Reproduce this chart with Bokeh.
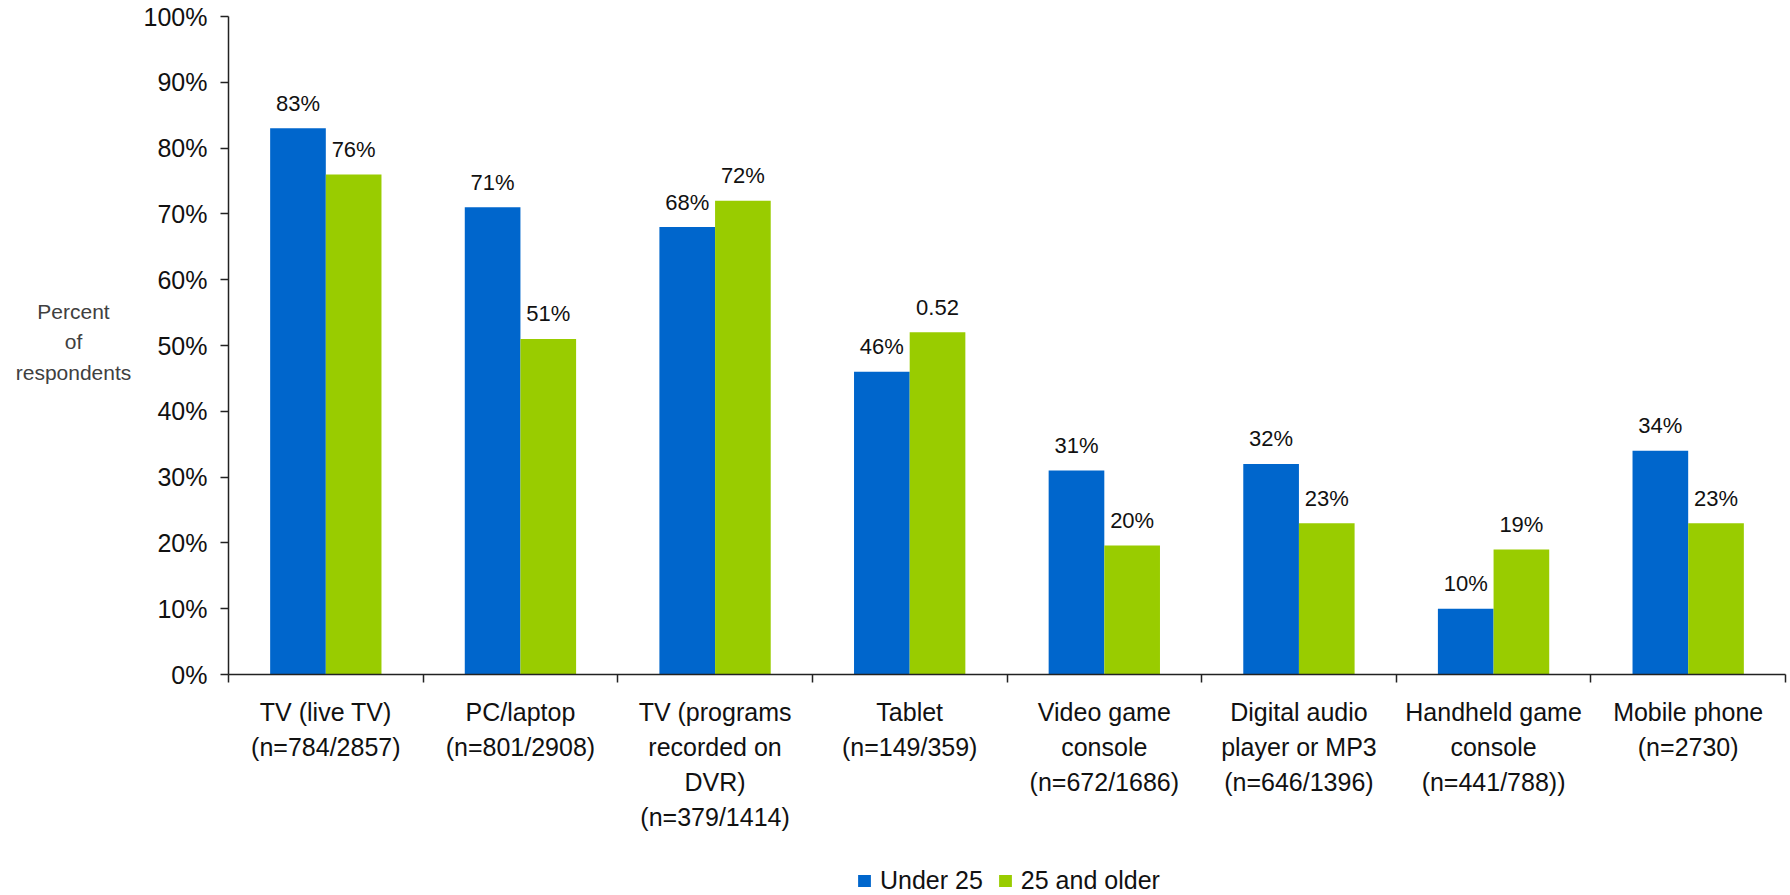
from bokeh.plotting import figure
from bokeh.models import (Range1d, FixedTicker, Legend, LegendItem, ColumnDataSource)
from bokeh.layouts import column, row
from bokeh.transform import dodge
from bokeh.embed import file_html
from bokeh.resources import INLINE
from bokeh.core.properties import value

# ---- data ----
categories = [
    "TV (live TV)\n(n=784/2857)",
    "PC/laptop\n(n=801/2908)",
    "TV (programs\nrecorded on\nDVR)\n(n=379/1414)",
    "Tablet\n(n=149/359)",
    "Video game\nconsole\n(n=672/1686)",
    "Digital audio\nplayer or MP3\n(n=646/1396)",
    "Handheld game\nconsole\n(n=441/788))",
    "Mobile phone\n(n=2730)",
]
under25 = [83, 71, 68, 46, 31, 32, 10, 34]
older25 = [76, 51, 72, 52, 19.6, 23, 19, 23]
under25_labels = ["83%", "71%", "68%", "46%", "31%", "32%", "10%", "34%"]
older25_labels = ["76%", "51%", "72%", "0.52", "20%", "23%", "19%", "23%"]
y_ticks = [0, 10, 20, 30, 40, 50, 60, 70, 80, 90, 100]
series_names = ["Under 25", "25 and older"]
y_title = "Percent\nof\nrespondents"

BLUE = "#0066CC"
GREEN = "#99CC00"
FONT = "Liberation Sans"
INK = "#111111"

TOTAL_W, TOTAL_H = 1790, 895
LAB_W = 140          # width of the y-title panel
MAIN_H = 857         # height of chart panel
LEG_H = TOTAL_H - MAIN_H

xs = list(range(len(categories)))
src = ColumnDataSource(dict(x=xs, u=under25, o=older25, ul=under25_labels, ol=older25_labels))

# ---- main chart ----
p = figure(width=TOTAL_W - LAB_W, height=MAIN_H, output_backend="svg", toolbar_location=None,
           x_range=Range1d(-0.5, len(categories) - 0.5), y_range=Range1d(0, 100),
           min_border_left=228 - LAB_W, min_border_right=5, min_border_top=16,
           min_border_bottom=MAIN_H - 674)
p.outline_line_color = None
p.xgrid.visible = False
p.ygrid.visible = False

bw = 0.286
r1 = p.vbar(x=dodge("x", -bw / 2, range=p.x_range), top="u", width=bw, source=src,
            fill_color=BLUE, line_color=None)
r2 = p.vbar(x=dodge("x", bw / 2, range=p.x_range), top="o", width=bw, source=src,
            fill_color=GREEN, line_color=None)

for col, lab, off in (("u", "ul", -bw / 2), ("o", "ol", bw / 2)):
    p.text(x=dodge("x", off, range=p.x_range), y=col, text=lab, source=src,
           text_align="center", text_baseline="middle", y_offset=-25,
           text_font=value(FONT), text_font_size="22px", text_color=INK)

ya = p.yaxis[0]
ya.ticker = FixedTicker(ticks=y_ticks)
ya.major_label_overrides = {t: f"{t}%" for t in y_ticks}
ya.minor_tick_line_color = None
ya.major_tick_out = 8
ya.major_tick_in = 0
ya.axis_line_width = 1.5
ya.major_tick_line_width = 1.5
ya.axis_line_color = "#222222"
ya.major_tick_line_color = "#222222"
ya.major_label_text_font = FONT
ya.major_label_text_font_size = "25px"
ya.major_label_text_color = INK
ya.major_label_standoff = 13

xa = p.xaxis[0]
xa.ticker = FixedTicker(ticks=xs, minor_ticks=[i - 0.5 for i in range(len(categories) + 1)])
xa.major_label_overrides = {i: c for i, c in enumerate(categories)}
xa.major_tick_out = 0
xa.major_tick_in = 0
xa.minor_tick_out = 8
xa.minor_tick_in = 0
xa.minor_tick_line_width = 1.5
xa.minor_tick_line_color = "#222222"
xa.axis_line_width = 1.5
xa.axis_line_color = "#222222"
xa.major_label_text_font = FONT
xa.major_label_text_font_size = "25px"
xa.major_label_text_color = INK
xa.major_label_text_line_height = 1.25
xa.major_label_standoff = 15

# ---- y title panel ----
yl = figure(width=LAB_W, height=MAIN_H, output_backend="svg", toolbar_location=None,
            x_range=Range1d(0, LAB_W), y_range=Range1d(0, MAIN_H),
            x_axis_location=None, y_axis_location=None, min_border=0)
yl.outline_line_color = None
yl.xgrid.visible = False
yl.ygrid.visible = False
yl.text(x=[73], y=[MAIN_H - 343], text=[y_title], text_align="center", text_baseline="middle",
        y_offset=62,
        text_font=value(FONT), text_font_size="21px", text_color="#404040",
        text_line_height=1.32)

# ---- legend panel ----
lg = figure(width=TOTAL_W, height=LEG_H, output_backend="svg", toolbar_location=None,
            x_range=Range1d(0, 1), y_range=Range1d(0, 1),
            x_axis_location=None, y_axis_location=None, min_border=0)
lg.outline_line_color = None
lg.xgrid.visible = False
lg.ygrid.visible = False
d1 = lg.vbar(x=[0.5], top=[0], width=0.0, fill_color=BLUE, line_color=None)
d2 = lg.vbar(x=[0.5], top=[0], width=0.0, fill_color=GREEN, line_color=None)
legend = Legend(items=[LegendItem(label=series_names[0], renderers=[d1]),
                       LegendItem(label=series_names[1], renderers=[d2])],
                orientation="horizontal", location=(856, 0),
                border_line_color=None, background_fill_alpha=0,
                padding=0, margin=0, spacing=14, label_standoff=8,
                glyph_width=16, glyph_height=15,
                label_text_font=FONT, label_text_font_size="25px",
                label_text_color=INK)
lg.add_layout(legend, "center")

layout = column(row(yl, p), lg)
open("out.html", "w").write(file_html(layout, INLINE))
